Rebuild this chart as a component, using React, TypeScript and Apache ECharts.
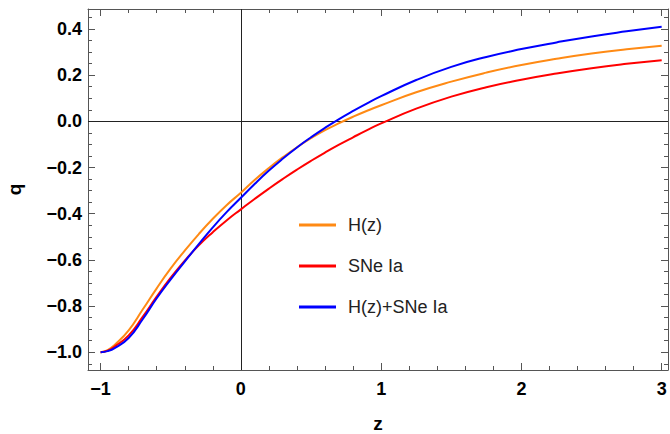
import React, { useEffect, useRef } from "react";
import * as echarts from "echarts";

// redshift samples
const zValues = [
  -1, -0.95, -0.9, -0.8, -0.7, -0.6, -0.5, -0.4, -0.3, -0.2, -0.1, 0, 0.1, 0.2,
  0.3, 0.4, 0.5, 0.6, 0.7, 0.8, 0.9, 1.0, 1.25, 1.5, 1.75, 2, 2.25, 2.5, 2.75, 3,
];
// deceleration parameter q(z)
const hzQ = [
  -1.0, -0.991, -0.968, -0.905, -0.815, -0.723, -0.637, -0.56, -0.488, -0.422,
  -0.362, -0.309, -0.253, -0.202, -0.155, -0.112, -0.073, -0.038, -0.008, 0.02,
  0.046, 0.07, 0.126, 0.172, 0.211, 0.244, 0.271, 0.294, 0.312, 0.327,
];
const sneQ = [
  -1.0, -0.993, -0.975, -0.927, -0.847, -0.759, -0.677, -0.603, -0.537, -0.48,
  -0.428, -0.381, -0.335, -0.291, -0.249, -0.209, -0.171, -0.135, -0.101,
  -0.069, -0.038, -0.009, 0.055, 0.107, 0.148, 0.18, 0.207, 0.23, 0.249, 0.265,
];
const jointQ = [
  -1.0, -0.995, -0.982, -0.938, -0.857, -0.766, -0.684, -0.607, -0.532, -0.459,
  -0.392, -0.331, -0.27, -0.213, -0.161, -0.113, -0.069, -0.028, 0.01, 0.045,
  0.078, 0.109, 0.179, 0.236, 0.279, 0.313, 0.342, 0.368, 0.39, 0.41,
];

const seriesNames = ["H(z)", "SNe Ia", "H(z)+SNe Ia"];
const seriesColors = ["#ff8a14", "#ff0000", "#0000ff"];

const xTickLabels = [-1, 0, 1, 2, 3];
const yTickLabels = [-1.0, -0.8, -0.6, -0.4, -0.2, 0.0, 0.2, 0.4];

const X_MIN = -1.0898;
const X_MAX = 3.045;
const Y_MIN = -1.0767;
const Y_MAX = 0.4866;

const frameColor = "#555";
const fontFamily = "'Liberation Sans', Arial, sans-serif";

function minorValues(from: number, to: number, step: number, majors: number[]) {
  const out: number[] = [];
  const n = Math.round((to - from) / step);
  for (let i = 0; i <= n; i++) {
    const v = +(from + i * step).toFixed(4);
    if (!majors.some((m) => Math.abs(m - v) < 1e-6)) out.push(v);
  }
  return out;
}

const minus = (s: string) => s.replace("-", "\u2212");

export default function App() {
  const ref = useRef<HTMLDivElement>(null);
  useEffect(() => {
    if (!ref.current) return;
    const chart = echarts.init(ref.current, undefined, { renderer: "svg" });
    const xMinor = minorValues(-1, 3, 0.2, xTickLabels);
    const yMinor = minorValues(-1.05, 0.45, 0.05, yTickLabels);
    const labelStyle = {
      fontSize: 18,
      fontWeight: "bold" as const,
      fontFamily,
      color: "#000",
    };
    const mkX = (gridIndex: number, position: string, ticks: number[], len: number, main: boolean) => ({
      type: "value",
      gridIndex,
      position,
      min: X_MIN,
      max: X_MAX,
      axisLine: { show: main, onZero: false, lineStyle: { color: frameColor, width: 1 } },
      axisTick: { show: true, inside: true, length: len, customValues: ticks, lineStyle: { color: frameColor, width: 1 } },
      axisLabel:
        main && position === "bottom"
          ? { show: true, customValues: xTickLabels, formatter: (v: number) => minus(String(v)), margin: 10, ...labelStyle }
          : { show: false },
      splitLine: { show: false },
      ...(main && position === "bottom"
        ? { name: "z", nameLocation: "middle", nameGap: 46, nameTextStyle: { ...labelStyle, fontSize: 19, lineHeight: 14 } }
        : {}),
    });
    const mkY = (gridIndex: number, position: string, ticks: number[], len: number, main: boolean) => ({
      type: "value",
      gridIndex,
      position,
      min: Y_MIN,
      max: Y_MAX,
      axisLine: { show: main, onZero: false, lineStyle: { color: frameColor, width: 1 } },
      axisTick: { show: true, inside: true, length: len, customValues: ticks, lineStyle: { color: frameColor, width: 1 } },
      axisLabel:
        main && position === "left"
          ? { show: true, customValues: yTickLabels, formatter: (v: number) => minus(v.toFixed(1)), margin: 6, ...labelStyle }
          : { show: false },
      splitLine: { show: false },
      ...(main && position === "left"
        ? { name: "q", nameLocation: "middle", nameGap: 64, nameRotate: 90, nameTextStyle: { ...labelStyle, fontSize: 19 } }
        : {}),
    });
    const gridRect = { left: 88, top: 9, right: 2, bottom: 64, outerBoundsMode: "none", containLabel: false };
    const series: any[] = [hzQ, sneQ, jointQ].map((vals, i) => ({
      name: seriesNames[i],
      type: "line",
      xAxisIndex: 0,
      yAxisIndex: 0,
      data: zValues.map((z, k) => [z, vals[k]]),
      showSymbol: false,
      symbol: "none",
      smooth: 0.5,
      lineStyle: { color: seriesColors[i], width: 2 },
      itemStyle: { color: seriesColors[i] },
      z: 3 + i,
    }));
    series[0].markLine = {
      silent: true,
      symbol: ["none", "none"],
      label: { show: false },
      lineStyle: { color: "#222", width: 1, type: "solid" },
      emphasis: { disabled: true },
      data: [{ xAxis: 0 }, { yAxis: 0 }],
      z: 1,
    };
    chart.setOption({
      animation: false,
      backgroundColor: "#fff",
      grid: [{ ...gridRect }, { ...gridRect }],
      xAxis: [
        mkX(0, "bottom", xTickLabels, 7, true),
        mkX(0, "top", xTickLabels, 7, true),
        mkX(1, "bottom", xMinor, 4, false),
        mkX(1, "top", xMinor, 4, false),
      ],
      yAxis: [
        mkY(0, "left", yTickLabels, 7, true),
        mkY(0, "right", yTickLabels, 7, true),
        mkY(1, "left", yMinor, 4, false),
        mkY(1, "right", yMinor, 4, false),
      ],
      legend: {
        orient: "vertical",
        left: 294,
        top: 210,
        itemWidth: 37,
        itemHeight: 3,
        itemGap: 21,
        icon: "rect",
        data: seriesNames,
        textStyle: { fontSize: 18, fontFamily, color: "#222", padding: [0, 0, 0, 7], lineHeight: 20 },
      },
      series,
    });
    return () => chart.dispose();
  }, []);
  return <div ref={ref} style={{ width: 670, height: 434, position: "absolute", left: 0, top: 0 }} />;
}
